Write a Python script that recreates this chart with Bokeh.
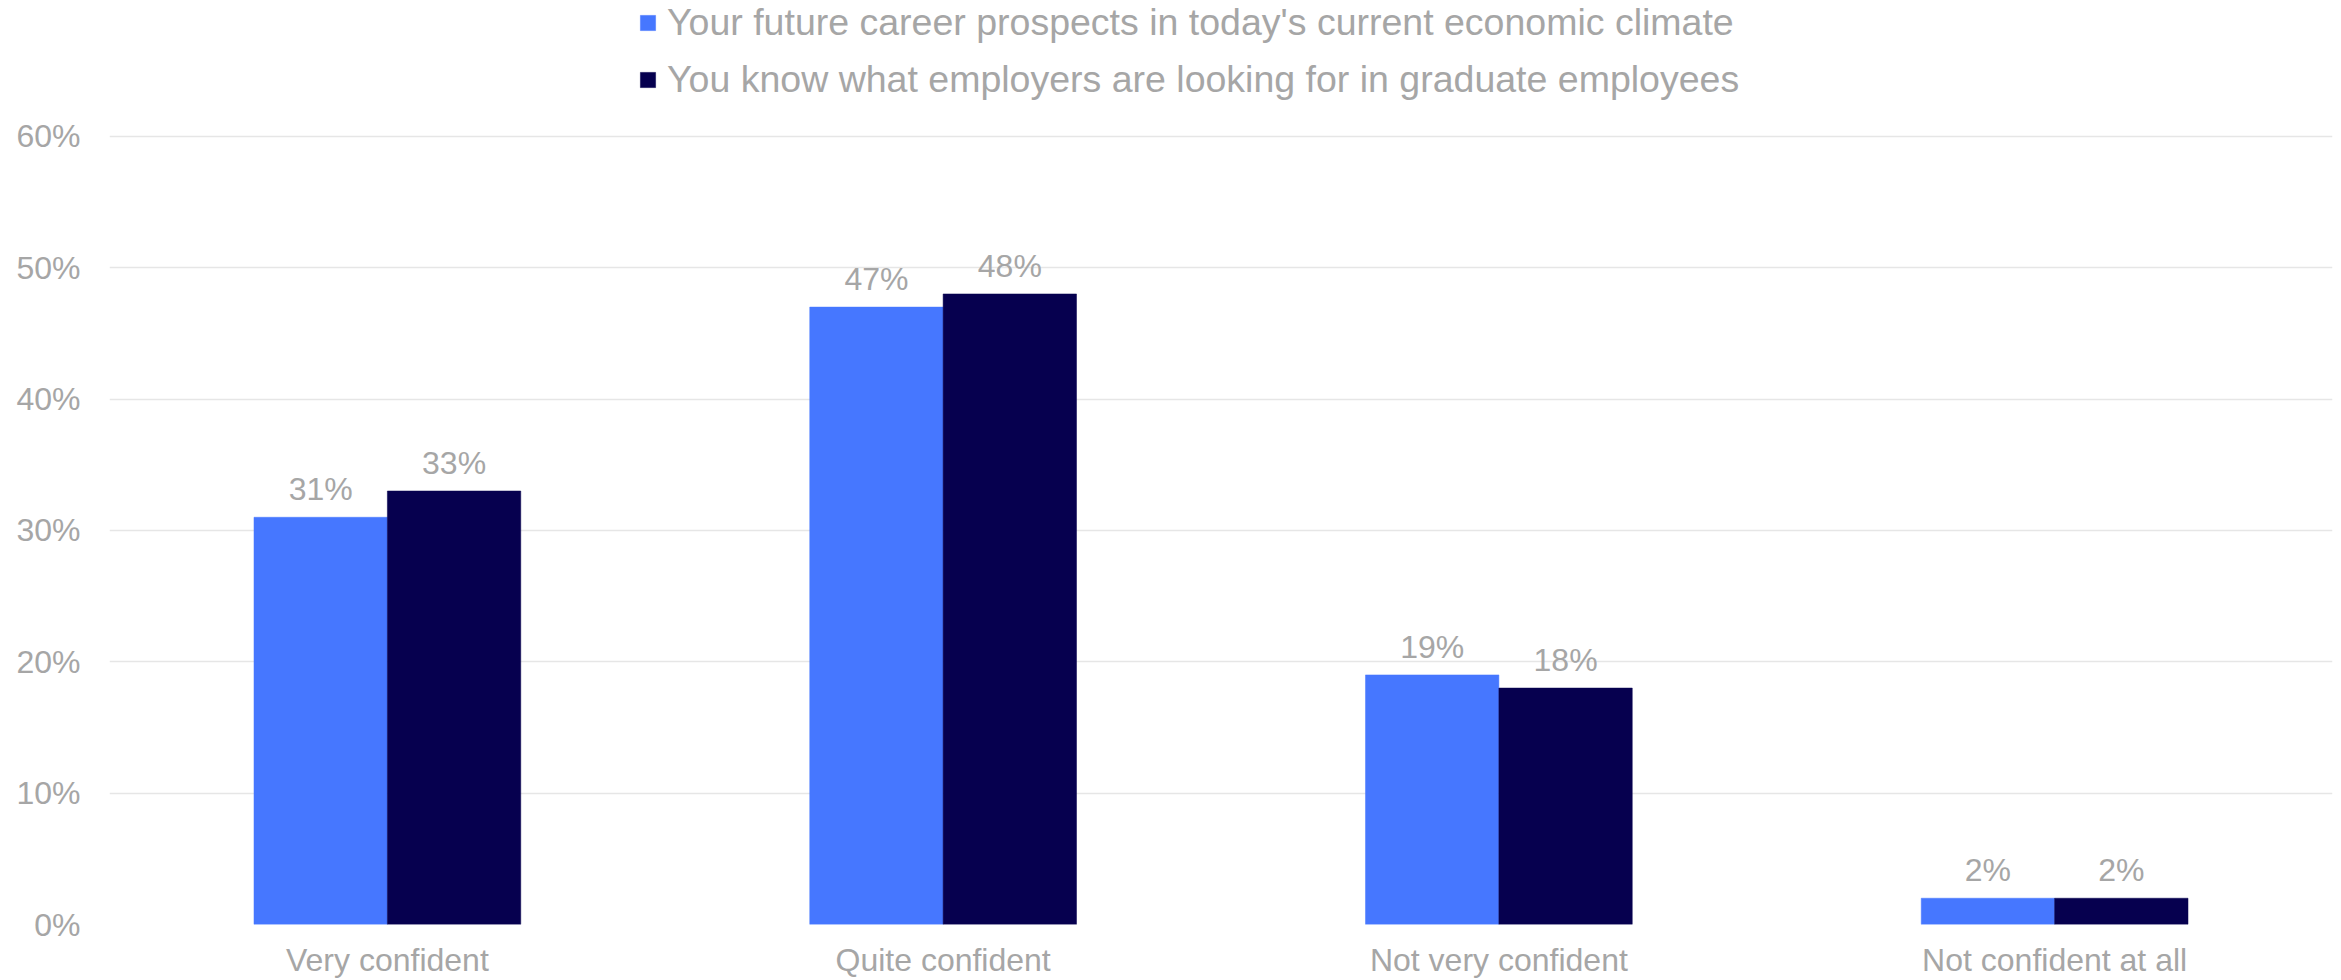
from bokeh.plotting import figure
from bokeh.models import ColumnDataSource, FactorRange, Range1d, FixedTicker, PrintfTickFormatter, Legend, LegendItem
from bokeh.transform import dodge
from bokeh.core.properties import value
from bokeh.embed import file_html
from bokeh.resources import INLINE

categories = ["Very confident", "Quite confident", "Not very confident", "Not confident at all"]
series_names = [
    "Your future career prospects in today's current economic climate",
    "You know what employers are looking for in graduate employees",
]
career_prospects = [31, 47, 19, 2]
know_employers = [33, 48, 18, 2]
y_ticks = [0, 10, 20, 30, 40, 50, 60]

BLUE = "#4677FF"
NAVY = "#06004F"
GREY = "#A6A6A6"
FONT = "Liberation Sans"

src = ColumnDataSource(dict(
    cat=categories,
    s1=career_prospects,
    s2=know_employers,
    l1=[f"{v}%" for v in career_prospects],
    l2=[f"{v}%" for v in know_employers],
))

p = figure(
    x_range=FactorRange(*categories, range_padding=0),
    y_range=Range1d(0, 70.34),
    width=2341, height=980,
    output_backend="svg", toolbar_location=None,
    min_border_left=109, min_border_right=9, min_border_top=0, min_border_bottom=55,
)
p.outline_line_color = None
p.background_fill_color = "white"

bw = 0.24
r1 = p.vbar(x=dodge("cat", -0.12, range=p.x_range), top="s1", width=bw, source=src,
            fill_color=BLUE, line_color=BLUE, line_width=0.5)
r2 = p.vbar(x=dodge("cat", 0.12, range=p.x_range), top="s2", width=bw, source=src,
            fill_color=NAVY, line_color=NAVY, line_width=0.5)

p.text(x=dodge("cat", -0.12, range=p.x_range), y="s1", text="l1", source=src,
       text_align="center", text_baseline="alphabetic", y_offset=-28,
       text_color=GREY, text_font=value(FONT), text_font_size="32px")
p.text(x=dodge("cat", 0.12, range=p.x_range), y="s2", text="l2", source=src,
       text_align="center", text_baseline="alphabetic", y_offset=-28,
       text_color=GREY, text_font=value(FONT), text_font_size="32px")

# axes
p.yaxis.ticker = FixedTicker(ticks=y_ticks)
p.yaxis.formatter = PrintfTickFormatter(format="%d%%")
for ax in (p.xaxis[0], p.yaxis[0]):
    ax.axis_line_color = None
    ax.major_tick_line_color = None
    ax.minor_tick_line_color = None
    ax.major_tick_out = 0
    ax.major_tick_in = 0
    ax.major_label_text_color = GREY
    ax.major_label_text_font = FONT
    ax.major_label_text_font_size = "32px"
p.yaxis.major_label_standoff = 29
p.xaxis.major_label_standoff = 17

p.xgrid.grid_line_color = None
p.ygrid.grid_line_color = "#E6E6E6"
p.ygrid.grid_line_width = 1.5

legend = Legend(
    items=[LegendItem(label=series_names[0], renderers=[r1]),
           LegendItem(label=series_names[1], renderers=[r2])],
    location=(529, 823),
    orientation="vertical",
    glyph_width=19, glyph_height=19,
    label_standoff=10, spacing=14, padding=0, margin=0,
    label_text_color=GREY, label_text_font=FONT, label_text_font_size="37.5px",
    border_line_color=None, background_fill_alpha=0,
)
p.add_layout(legend, "center")

open("out.html", "w").write(file_html(p, INLINE))
